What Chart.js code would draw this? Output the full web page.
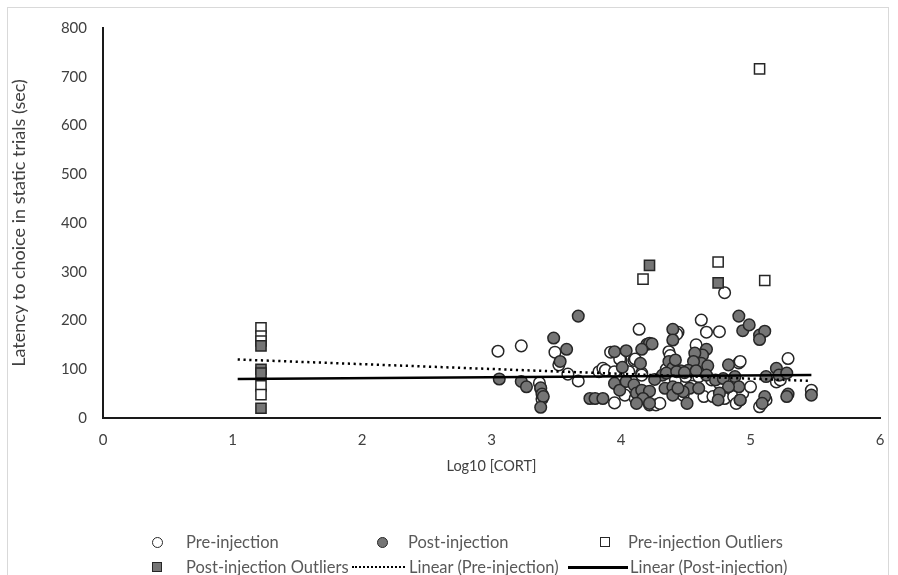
<!DOCTYPE html>
<html><head><meta charset="utf-8">
<script src="https://cdn.jsdelivr.net/npm/chart.js@4"></script>
<style>
html,body{margin:0;padding:0;background:#fff;}
#wrap{position:relative;width:898px;height:575px;overflow:hidden;font-family:Lato,"Open Sans",sans-serif;}
#frame{position:absolute;left:7px;top:7px;width:880px;height:620px;border:1px solid #d9d9d9;}
canvas{position:absolute;left:0;top:0;}
.lt{position:absolute;font-size:16.5px;color:#595959;line-height:20px;white-space:nowrap;}
.mk{position:absolute;box-sizing:border-box;}
</style>
</head><body>
<div id="wrap">
<div id="frame"></div>
<canvas id="c" width="898" height="575"></canvas>
<div id="legend"></div>
</div>
<script>
// ---- data ----
const xAxisTitle = 'Log10 [CORT]';
const yAxisTitle = 'Latency to choice in static trials (sec)';
const seriesNames = ['Pre-injection','Post-injection','Pre-injection Outliers','Post-injection Outliers','Linear (Pre-injection)','Linear (Post-injection)'];

const preInjection = [
 [3.05,137],[3.23,148],[3.49,135],[3.52,109],[3.59,90],[3.67,76],[3.37,72],[3.39,39],[3.38,60],
 [3.83,95],[3.86,102],[3.88,98],[3.95,95],[3.92,135],[4.00,119],[4.10,118],[4.14,182],[3.95,31],
 [4.22,27],[4.27,27],[4.30,30],[4.04,57],[4.07,57],[4.03,47],[4.11,40],[4.16,92],[4.16,88],[4.06,95],
 [3.99,121],[4.11,121],[4.37,136],[4.38,128],[4.44,176],[4.43,172],[4.62,201],[4.66,176],[4.76,177],
 [4.58,150],[4.80,257],[4.42,78],[4.48,47],[4.50,85],[4.55,65],[4.35,100],[4.60,85],[4.64,44],
 [4.70,78],[4.71,44],[4.76,71],[4.80,40],[4.87,44],[4.89,30],[4.92,37],[4.91,113],[4.92,116],
 [4.94,51],[5.00,64],[5.07,23],[5.12,37],[5.20,74],[5.23,78],[5.29,122],[5.47,57]
];
const postInjection = [
 [3.06,80],[3.23,75],[3.27,64],[3.38,62],[3.39,49],[3.40,44],[3.38,22],[3.48,164],[3.58,141],
 [3.53,116],[3.67,209],[3.76,40],[3.80,40],[3.86,40],[3.95,136],[4.04,138],[4.15,112],[4.01,104],
 [4.20,151],[4.22,153],[4.24,152],[4.16,141],[4.40,182],[4.40,160],[4.37,116],[4.40,103],[4.42,119],
 [4.32,88],[4.26,79],[4.35,92],[3.95,71],[3.99,57],[4.04,75],[4.10,68],[4.12,51],[4.16,57],[4.22,55],
 [4.17,40],[4.12,30],[4.22,30],[4.34,61],[4.40,64],[4.40,47],[4.91,209],[4.94,179],[4.99,191],
 [4.66,141],[4.63,129],[4.57,133],[4.62,112],[4.56,116],[4.67,107],[4.52,98],[4.46,97],[4.83,109],
 [4.43,95],[4.49,93],[4.58,97],[4.66,88],[4.73,78],[4.79,81],[4.88,85],[4.91,64],[4.83,64],[4.76,51],
 [4.75,37],[4.53,61],[4.48,54],[4.44,61],[4.60,61],[4.51,30],[5.07,170],[5.11,178],[5.07,161],
 [5.20,102],[5.12,85],[5.22,88],[5.28,92],[5.11,44],[5.09,30],[5.29,49],[5.28,44],[5.47,47],[4.92,37]
];
const preOutliers = [
 [1.22,185],[1.22,168],[1.22,158],[1.22,66],[1.22,48],[4.17,285],[4.75,320],[5.07,716],[5.11,282]
];
const postOutliers = [
 [1.22,148],[1.22,100],[1.22,92],[1.22,20],[4.22,313],[4.75,277]
];
const preTrend = [[1.04,120],[5.47,76]];
const postTrend = [[1.04,80],[5.47,88]];
const xTicks = {min:0,max:6,step:1};
const yTicks = {min:0,max:800,step:100};

const toPts = a => a.map(p => ({x:p[0], y:p[1]}));
const FONT = 'Lato, "Open Sans", sans-serif';
const POST_FILL = '#757575';
const EDGE = '#262626';

new Chart(document.getElementById('c'), {
  type:'scatter',
  data:{datasets:[
    {label:seriesNames[4], data:toPts(preTrend), type:'line', showLine:true, pointRadius:0,
     borderColor:'#000', borderWidth:2.5, borderDash:[2.2,3.6], fill:false, order:0},
    {label:seriesNames[5], data:toPts(postTrend), type:'line', showLine:true, pointRadius:0,
     borderColor:'#000', borderWidth:2.5, fill:false, order:0},
    {label:seriesNames[3], data:toPts(postOutliers), pointStyle:'rect', pointRadius:7.2,
     backgroundColor:POST_FILL, borderColor:EDGE, borderWidth:1.5, order:1},
    {label:seriesNames[2], data:toPts(preOutliers), pointStyle:'rect', pointRadius:7.2,
     backgroundColor:'#fff', borderColor:EDGE, borderWidth:1.5, order:2},
    {label:seriesNames[1], data:toPts(postInjection), pointStyle:'circle', pointRadius:5.8,
     backgroundColor:POST_FILL, borderColor:EDGE, borderWidth:1.5, order:3},
    {label:seriesNames[0], data:toPts(preInjection), pointStyle:'circle', pointRadius:5.8,
     backgroundColor:'#fff', borderColor:EDGE, borderWidth:1.5, order:4}
  ]},
  options:{
    responsive:false, animation:false,
    layout:{padding:{top:28,right:18,left:0,bottom:0}},
    plugins:{legend:{display:false}, tooltip:{enabled:false}},
    scales:{
      x:{type:'linear', min:xTicks.min, max:xTicks.max,
         ticks:{stepSize:xTicks.step, color:'#404040', font:{family:FONT,size:15}, padding:13},
         grid:{display:false, drawTicks:false},
         border:{display:true,color:'#1a1a1a',width:2},
         title:{display:true, text:xAxisTitle, color:'#404040', font:{family:FONT,size:14.5}, padding:{top:0,bottom:100}},
         afterFit:s=>{s.height = 575-418;}},
      y:{type:'linear', min:yTicks.min, max:yTicks.max,
         ticks:{stepSize:yTicks.step, color:'#404040', font:{family:FONT,size:15}, padding:16},
         grid:{display:false, drawTicks:false},
         border:{display:true,color:'#1a1a1a',width:2},
         title:{display:true, text:yAxisTitle, color:'#404040', font:{family:FONT,size:18}, padding:{top:8,bottom:0}},
         afterFit:s=>{s.width = 103;}}
    }
  }
});

// ---- HTML legend (Excel-style, 2 rows x 3 columns) ----
const lg = document.getElementById('legend');
function add(html){ lg.insertAdjacentHTML('beforeend', html); }
const row1 = 542, row2 = 567;
function circle(cx,cy,fill){ add(`<div class="mk" style="left:${cx-5.5}px;top:${cy-5.5}px;width:11px;height:11px;border-radius:50%;background:${fill};border:1.5px solid ${EDGE}"></div>`); }
function square(cx,cy,fill){ add(`<div class="mk" style="left:${cx-5}px;top:${cy-5}px;width:10px;height:10px;background:${fill};border:1.5px solid ${EDGE}"></div>`); }
function text(x,cy,t){ const d=document.createElement('div'); d.className='lt'; d.style.left=x+'px'; d.style.top=(cy-10)+'px'; d.textContent=t; lg.appendChild(d); }
circle(157,row1,'#fff'); text(186,row1,seriesNames[0]);
circle(382,row1,POST_FILL); text(408,row1,seriesNames[1]);
square(605,row1,'#fff'); text(628,row1,seriesNames[2]);
square(157,row2,POST_FILL); text(186,row2,seriesNames[3]);
add(`<div class="mk" style="left:352px;top:${row2-1}px;width:53px;height:0;border-top:2.5px dotted #000"></div>`);
text(409,row2,seriesNames[4]);
add(`<div class="mk" style="left:568px;top:${row2-1}px;width:60px;height:2.5px;background:#000"></div>`);
text(630,row2,seriesNames[5]);
</script>
</body></html>
